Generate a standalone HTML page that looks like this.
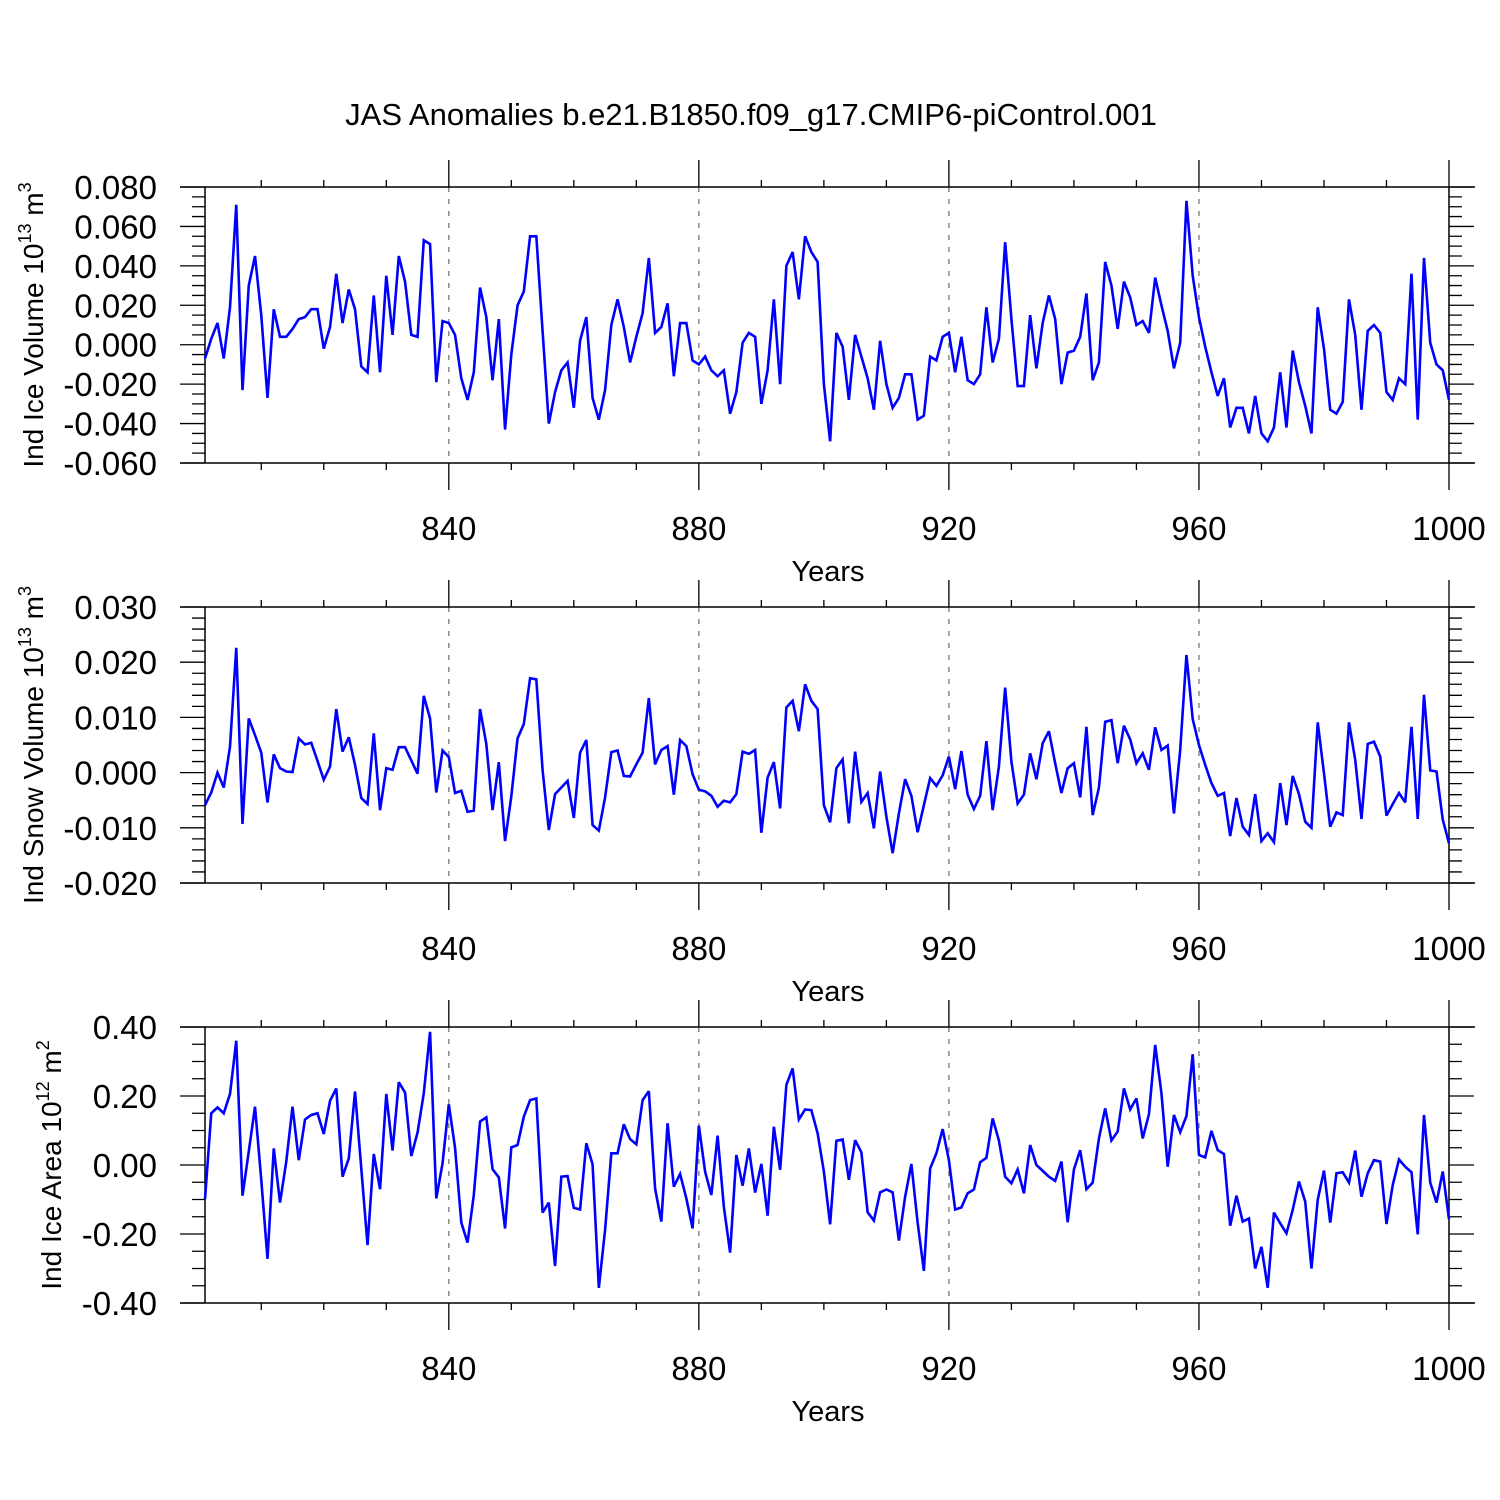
<!DOCTYPE html>
<html><head><meta charset="utf-8">
<style>
html,body{margin:0;padding:0;background:#fff;}
svg{display:block;font-family:"Liberation Sans",Arial,sans-serif;}
</style></head>
<body>
<svg id="chart" width="1500" height="1500" viewBox="0 0 1500 1500" xmlns="http://www.w3.org/2000/svg">
<rect x="0" y="0" width="1500" height="1500" fill="#fff"/>
<text x="751" y="125" font-size="31" text-anchor="middle">JAS Anomalies b.e21.B1850.f09_g17.CMIP6-piControl.001</text>
<g id="panels"></g>
</svg>
<script>
const years = [];
for (let y = 801; y <= 1000; y++) years.push(y);

const iceVolume = [-0.007,0.003,0.011,-0.007,0.019,0.071,-0.023,0.030,0.045,0.015,-0.027,0.018,0.004,0.004,0.008,0.013,0.014,0.018,0.018,-0.002,
0.009,0.036,0.011,0.028,0.018,-0.011,-0.014,0.025,-0.014,0.035,0.005,0.045,0.032,0.005,0.004,0.053,0.051,-0.019,0.012,0.011,
0.005,-0.017,-0.028,-0.014,0.029,0.014,-0.018,0.013,-0.043,-0.005,0.020,0.027,0.055,0.055,0.007,-0.040,-0.024,-0.013,-0.009,-0.032,
0.002,0.014,-0.027,-0.038,-0.023,0.010,0.023,0.009,-0.009,0.004,0.016,0.044,0.006,0.009,0.021,-0.016,0.011,0.011,-0.008,-0.010,
-0.006,-0.013,-0.016,-0.013,-0.035,-0.024,0.001,0.006,0.004,-0.030,-0.013,0.023,-0.020,0.040,0.047,0.023,0.055,0.047,0.042,-0.020,
-0.049,0.006,-0.001,-0.028,0.005,-0.006,-0.017,-0.033,0.002,-0.020,-0.032,-0.027,-0.015,-0.015,-0.038,-0.036,-0.006,-0.008,0.004,0.006,
-0.014,0.004,-0.018,-0.020,-0.015,0.019,-0.009,0.003,0.052,0.013,-0.021,-0.021,0.015,-0.012,0.011,0.025,0.013,-0.020,-0.004,-0.003,
0.004,0.026,-0.018,-0.009,0.042,0.030,0.008,0.032,0.024,0.010,0.012,0.006,0.034,0.020,0.007,-0.012,0.001,0.073,0.035,0.014,
-0.001,-0.014,-0.026,-0.017,-0.042,-0.032,-0.032,-0.045,-0.026,-0.045,-0.049,-0.042,-0.014,-0.042,-0.003,-0.019,-0.031,-0.045,0.019,-0.002,
-0.033,-0.035,-0.029,0.023,0.005,-0.033,0.007,0.010,0.006,-0.024,-0.028,-0.017,-0.020,0.036,-0.038,0.044,0.001,-0.010,-0.013,-0.028];

const snowVolume = [-0.0059,-0.0036,0.0000,-0.0027,0.0047,0.0226,-0.0093,0.0098,0.0068,0.0036,-0.0054,0.0033,0.0008,0.0002,0.0001,0.0062,0.0051,0.0054,0.0021,-0.0013,
0.0011,0.0115,0.0038,0.0064,0.0014,-0.0046,-0.0057,0.0071,-0.0068,0.0008,0.0005,0.0046,0.0046,0.0022,-0.0002,0.0139,0.0098,-0.0036,0.0040,0.0028,
-0.0037,-0.0033,-0.0071,-0.0069,0.0115,0.0052,-0.0068,0.0019,-0.0124,-0.0043,0.0062,0.0088,0.0171,0.0169,0.0005,-0.0104,-0.0039,-0.0027,-0.0015,-0.0082,
0.0036,0.0059,-0.0095,-0.0105,-0.0045,0.0037,0.0040,-0.0006,-0.0007,0.0015,0.0036,0.0135,0.0015,0.0041,0.0048,-0.0040,0.0059,0.0048,-0.0003,-0.0031,
-0.0034,-0.0042,-0.0062,-0.0051,-0.0054,-0.0039,0.0038,0.0034,0.0041,-0.0109,-0.0009,0.0019,-0.0065,0.0118,0.0130,0.0075,0.0160,0.0130,0.0115,-0.0059,
-0.0090,0.0008,0.0024,-0.0092,0.0038,-0.0053,-0.0037,-0.0101,0.0002,-0.0080,-0.0146,-0.0074,-0.0012,-0.0042,-0.0108,-0.0059,-0.0010,-0.0024,-0.0005,0.0029,
-0.0030,0.0039,-0.0040,-0.0066,-0.0042,0.0057,-0.0068,0.0011,0.0154,0.0020,-0.0056,-0.0040,0.0035,-0.0012,0.0053,0.0075,0.0017,-0.0037,0.0008,0.0017,
-0.0045,0.0083,-0.0077,-0.0027,0.0092,0.0095,0.0017,0.0085,0.0060,0.0017,0.0035,0.0005,0.0082,0.0041,0.0049,-0.0074,0.0041,0.0213,0.0097,0.0050,
0.0014,-0.0019,-0.0042,-0.0037,-0.0115,-0.0046,-0.0098,-0.0113,-0.0039,-0.0124,-0.0110,-0.0126,-0.0019,-0.0095,-0.0006,-0.0039,-0.0089,-0.0100,0.0091,-0.0001,
-0.0098,-0.0072,-0.0077,0.0091,0.0023,-0.0084,0.0052,0.0056,0.0029,-0.0078,-0.0057,-0.0037,-0.0054,0.0083,-0.0084,0.0141,0.0004,0.0002,-0.0085,-0.0128];

const iceArea = [-0.099,0.150,0.167,0.150,0.206,0.360,-0.089,0.039,0.169,-0.043,-0.272,0.048,-0.109,0.010,0.169,0.014,0.132,0.145,0.150,0.090,
0.186,0.222,-0.034,0.019,0.213,-0.010,-0.232,0.032,-0.070,0.206,0.042,0.240,0.210,0.026,0.094,0.208,0.386,-0.097,0.005,0.176,
0.050,-0.167,-0.225,-0.087,0.126,0.138,-0.012,-0.036,-0.184,0.051,0.058,0.140,0.188,0.193,-0.138,-0.109,-0.293,-0.034,-0.032,-0.124,
-0.129,0.063,0.002,-0.356,-0.188,0.034,0.034,0.118,0.075,0.060,0.188,0.214,-0.068,-0.164,0.121,-0.063,-0.026,-0.097,-0.184,0.114,
-0.019,-0.087,0.085,-0.121,-0.254,0.029,-0.060,0.048,-0.080,0.003,-0.147,0.111,-0.014,0.232,0.280,0.132,0.161,0.159,0.092,-0.019,
-0.172,0.070,0.074,-0.043,0.072,0.037,-0.137,-0.161,-0.079,-0.071,-0.079,-0.219,-0.092,0.003,-0.167,-0.307,-0.010,0.034,0.104,0.014,
-0.129,-0.123,-0.082,-0.071,0.008,0.021,0.135,0.071,-0.034,-0.053,-0.013,-0.082,0.058,0.000,-0.017,-0.034,-0.046,0.010,-0.166,-0.013,
0.043,-0.070,-0.051,0.077,0.164,0.071,0.097,0.222,0.161,0.193,0.077,0.147,0.348,0.208,-0.005,0.145,0.095,0.142,0.321,0.029,
0.022,0.099,0.043,0.032,-0.176,-0.089,-0.164,-0.155,-0.300,-0.237,-0.356,-0.138,-0.169,-0.198,-0.130,-0.048,-0.106,-0.300,-0.101,-0.016,
-0.167,-0.024,-0.021,-0.051,0.042,-0.092,-0.024,0.014,0.010,-0.171,-0.058,0.016,-0.005,-0.021,-0.201,0.145,-0.051,-0.109,-0.019,-0.157];

const xTickLabels = ["840","880","920","960","1000"];
const iceVolTicks = ["0.080","0.060","0.040","0.020","0.000","-0.020","-0.040","-0.060"];
const snowVolTicks = ["0.030","0.020","0.010","0.000","-0.010","-0.020"];
const iceAreaTicks = ["0.40","0.20","0.00","-0.20","-0.40"];

const NS = "http://www.w3.org/2000/svg";
const root = document.getElementById("panels");
function mk(tag, attrs, parent){
  const e = document.createElementNS(NS, tag);
  for (const k in attrs) e.setAttribute(k, attrs[k]);
  (parent||root).appendChild(e);
  return e;
}
const X0 = 205, X1 = 1449, FL = 180, FR = 1475;
function xScale(yr){ return X0 + (yr - 801) * (X1 - X0) / 199; }

const panels = [
  {key:"ice-volume", top:187, bot:463, min:-0.06, max:0.08, minor:0.005, data:iceVolume, ticks:iceVolTicks, title:["Ind Ice Volume 10","13"," m","3"], tx:43},
  {key:"snow-volume", top:607, bot:883, min:-0.02, max:0.03, minor:0.002, data:snowVolume, ticks:snowVolTicks, title:["Ind Snow Volume 10","13"," m","3"], tx:43},
  {key:"ice-area", top:1027, bot:1303, min:-0.4, max:0.4, minor:0.05, data:iceArea, ticks:iceAreaTicks, title:["Ind Ice Area 10","12"," m","2"], tx:61}
];

panels.forEach(function(p){
  const g = mk("g", {});
  
  
  const yScale = function(v){ return p.bot - (v - p.min) * (p.bot - p.top) / (p.max - p.min); };

  [840,880,920,960].forEach(function(yr){
    const l = mk("line", {x1:xScale(yr), x2:xScale(yr), y1:p.top, y2:p.bot, stroke:"#888", "stroke-width":1.5, "stroke-dasharray":"5,7"}, g);
    
    
  });

  const fr = mk("path", {d:"M"+FL+","+p.top+"H"+FR+"M"+FL+","+p.bot+"H"+FR+"M"+X0+","+p.top+"V"+p.bot+"M"+X1+","+p.top+"V"+p.bot, stroke:"#000", "stroke-width":1.5, fill:"none"}, g);
  
  

  let d = "";
  for (let yr = 810; yr <= 1000; yr += 10){
    const x = xScale(yr);
    const major = (yr % 40 === 0);
    const len = major ? 27 : 7;
    d += "M"+x+","+p.top+"V"+(p.top-len)+"M"+x+","+p.bot+"V"+(p.bot+len);
  }
  const nMinor = Math.round((p.max - p.min)/p.minor);
  const majorEvery = Math.round((p.max - p.min)/(p.ticks.length-1)/p.minor);
  for (let i = 0; i <= nMinor; i++){
    const y = yScale(p.min + i*p.minor);
    const major = (i % majorEvery === 0);
    const len = major ? 25 : 13;
    d += "M"+X0+","+y+"H"+(X0-len)+"M"+X1+","+y+"H"+(X1+len);
  }
  const tk = mk("path", {d:d, stroke:"#000", "stroke-width":1.3, fill:"none"}, g);
  
  

  xTickLabels.forEach(function(lab){
    const t = mk("text", {x:xScale(+lab), y:p.bot+77, "font-size":33, "text-anchor":"middle"}, g);
    
    
    t.textContent = lab;
  });
  const xt = mk("text", {x:828, y:p.bot+118, "font-size":29, "text-anchor":"middle"}, g);
  
  
  xt.textContent = "Years";

  p.ticks.forEach(function(lab){
    const t = mk("text", {x:157, y:yScale(+lab)+12, "font-size":33, "text-anchor":"end"}, g);
    
    
    t.textContent = lab;
  });

  const cy = (p.top + p.bot)/2;
  const yt = mk("text", {x:0, y:0, "font-size":28, "text-anchor":"middle", transform:"translate("+p.tx+","+cy+") rotate(-90)"}, g);
  
  
  const parts = p.title;
  for (let i = 0; i < parts.length; i++){
    const s = document.createElementNS(NS, "tspan");
    if (i % 2 === 1){ s.setAttribute("font-size", "18"); s.setAttribute("dy", "-12"); }
    else if (i > 0){ s.setAttribute("dy", "12"); }
    s.textContent = parts[i];
    yt.appendChild(s);
  }

  let pd = "";
  p.data.forEach(function(v, i){
    pd += (i ? "L" : "M") + xScale(years[i]).toFixed(2) + "," + yScale(v).toFixed(2);
  });
  const ln = mk("path", {d:pd, stroke:"#0000ff", "stroke-width":2.6, fill:"none", "stroke-linejoin":"miter", "stroke-miterlimit":"3"}, g);
  
  
});
</script>
</body></html>
